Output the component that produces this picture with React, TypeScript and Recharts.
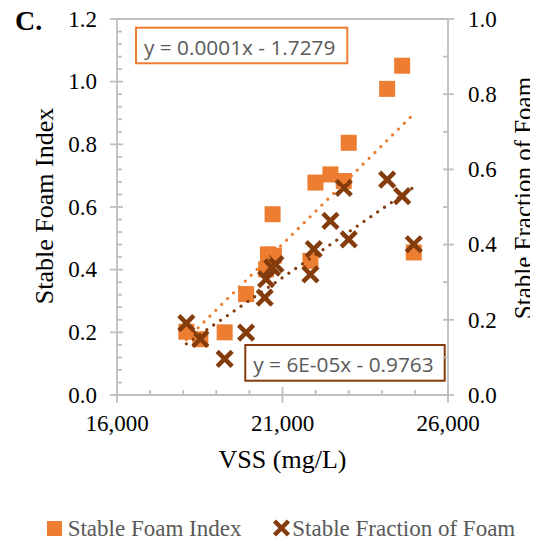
import React from 'react';
import { ScatterChart, Scatter, XAxis, YAxis, ReferenceLine, Legend, Customized } from 'recharts';

const ORANGE = '#ED7D31';
const BROWN = '#843C0C';
const AXIS_GRAY = '#BFBFBF';
const TEXT_GRAY = '#595959';
const SERIF = '"Liberation Serif", "Times New Roman", serif';
const SANS = '"Open Sans", "Liberation Sans", sans-serif';

// Stable Foam Index (left axis)
const vssFoam = [18095, 18518, 19253, 19900, 20504, 20560, 20700, 20740, 21843, 21995, 22448, 22850, 23001, 24162, 24615, 24966];
const foamIndex = [0.202, 0.178, 0.2, 0.322, 0.401, 0.449, 0.577, 0.445, 0.428, 0.678, 0.704, 0.683, 0.805, 0.977, 1.051, 0.455];

// Stable Fraction of Foam (right axis)
const vssFraction = [18095, 18518, 19253, 19900, 20462, 20504, 20686, 20785, 21843, 21943, 22448, 22850, 23001, 24162, 24615, 24966];
const stableFraction = [0.191, 0.149, 0.096, 0.166, 0.259, 0.308, 0.339, 0.348, 0.321, 0.388, 0.463, 0.551, 0.414, 0.573, 0.529, 0.401];

// Linear trendlines (end points)
const foamTrendX = [18095, 24966];
const foamTrendY = [0.177, 0.897];
const fractionTrendX = [18095, 24966];
const fractionTrendY = [0.136, 0.553];

const foamEquation = 'y = 0.0001x - 1.7279';
const fractionEquation = 'y = 6E-05x - 0.9763';

// Axes
const xDomain = [16000, 26000];
const xTicks = [16000, 17000, 18000, 19000, 20000, 21000, 22000, 23000, 24000, 25000, 26000];
const xMajorTicks = [16000, 21000, 26000];
const xTickLabels = ['16,000', '21,000', '26,000'];

const leftDomain = [0, 1.2];
const leftTicks = [0, 0.04, 0.08, 0.12, 0.16, 0.2, 0.24, 0.28, 0.32, 0.36, 0.4, 0.44, 0.48, 0.52, 0.56, 0.6, 0.64, 0.68, 0.72, 0.76, 0.8, 0.84, 0.88, 0.92, 0.96, 1.0, 1.04, 1.08, 1.12, 1.16, 1.2];
const leftMajorTicks = [0, 0.2, 0.4, 0.6, 0.8, 1.0, 1.2];
const leftTickLabels = ['0.0', '0.2', '0.4', '0.6', '0.8', '1.0', '1.2'];

const rightDomain = [0, 1.0];
const rightTicks = [0, 0.1, 0.2, 0.3, 0.4, 0.5, 0.6, 0.7, 0.8, 0.9, 1.0];
const rightMajorTicks = [0, 0.2, 0.4, 0.6, 0.8, 1.0];
const rightTickLabels = ['0.0', '0.2', '0.4', '0.6', '0.8', '1.0'];

const seriesNames = ['Stable Foam Index', 'Stable Fraction of Foam'];

const foamData = vssFoam.map((x, i) => ({ x, y: foamIndex[i] }));
const fractionData = vssFraction.map((x, i) => ({ x, y: stableFraction[i] }));
const foamTrend = foamTrendX.map((x, i) => ({ x, y: foamTrendY[i] }));
const fractionTrend = fractionTrendX.map((x, i) => ({ x, y: fractionTrendY[i] }));

const majorIndex = (list: number[], v: number) => list.findIndex((m) => Math.abs(m - v) < 1e-6);

function XTick(props: any) {
  const { x, y, payload } = props;
  const idx = majorIndex(xMajorTicks, payload.value);
  const major = idx >= 0;
  return (
    <g>
      <line x1={x} x2={x} y1={y - (major ? 8 : 5)} y2={y + (major ? 8 : 0)} stroke={AXIS_GRAY} strokeWidth={1.8} />
      {major && (
        <text x={x} y={y + 36} textAnchor="middle" fontFamily={SERIF} fontSize={23} fill="#000">
          {xTickLabels[idx]}
        </text>
      )}
    </g>
  );
}

function LeftTick(props: any) {
  const { x, y, payload } = props;
  const idx = majorIndex(leftMajorTicks, payload.value);
  const major = idx >= 0;
  return (
    <g>
      <line x1={x - (major ? 7 : 0)} x2={x + (major ? 6 : 5)} y1={y} y2={y} stroke={AXIS_GRAY} strokeWidth={1.8} />
      {major && (
        <text x={x - 20} y={y + 7.8} textAnchor="end" fontFamily={SERIF} fontSize={23} fill="#000">
          {leftTickLabels[idx]}
        </text>
      )}
    </g>
  );
}

function RightTick(props: any) {
  const { x, y, payload } = props;
  const idx = majorIndex(rightMajorTicks, payload.value);
  const major = idx >= 0;
  return (
    <g>
      <line x1={x - 5} x2={x + (major ? 6 : 0)} y1={y} y2={y} stroke={AXIS_GRAY} strokeWidth={1.8} />
      {major && (
        <text x={x + 20} y={y + 7.8} textAnchor="start" fontFamily={SERIF} fontSize={23} fill="#000">
          {rightTickLabels[idx]}
        </text>
      )}
    </g>
  );
}

const SquareShape = (p: any) => <rect x={p.cx - 8} y={p.cy - 8} width={16} height={16} fill={ORANGE} />;
const CrossShape = (p: any) => (
  <g stroke={BROWN} strokeWidth={4.5}>
    <line x1={p.cx - 7.5} y1={p.cy - 7.5} x2={p.cx + 7.5} y2={p.cy + 7.5} />
    <line x1={p.cx - 7.5} y1={p.cy + 7.5} x2={p.cx + 7.5} y2={p.cy - 7.5} />
  </g>
);
const NoShape = () => <g />;

const leftTitle = () => {
  const cx = 45;
  const cy = 206;
  return (
    <text x={cx} y={cy} transform={`rotate(-90, ${cx}, ${cy})`} textAnchor="middle" fontFamily={SERIF} fontSize={26} fill="#000">
      Stable Foam Index
    </text>
  );
};

const rightTitle = () => {
  const cx = 523.5;
  const cy = 198;
  return (
    <text x={cx} y={cy} transform={`rotate(-90, ${cx}, ${cy})`} textAnchor="middle" fontFamily={SERIF} fontSize={25} fill="#000">
      Stable Fraction of Foam
    </text>
  );
};

const xTitle = () => (
  <text x={274.5} y={468} textAnchor="middle" fontFamily={SERIF} fontSize={26} fill="#000">
    VSS (mg/L)
  </text>
);

const LegendContent = () => (
  <svg width={530} height={36} style={{ display: 'block' }}>
    <rect x={39} y={8} width={15} height={15} fill={ORANGE} />
    <text x={59.7} y={23} fontFamily={SERIF} fontSize={23} fill={TEXT_GRAY}>
      {seriesNames[0]}
    </text>
    <g stroke={BROWN} strokeWidth={4.5}>
      <line x1={266.5} y1={8} x2={280.5} y2={22} />
      <line x1={266.5} y1={22} x2={280.5} y2={8} />
    </g>
    <text x={284.3} y={23} fontFamily={SERIF} fontSize={23} fill={TEXT_GRAY}>
      {seriesNames[1]}
    </text>
  </svg>
);

const Annotations = () => (
  <g>
    <text x={7} y={30} fontFamily={SERIF} fontSize={28} fontWeight="bold" fill="#000">
      C.
    </text>
    <rect x={128} y={27.7} width={211.3} height={35.6} fill="#fff" stroke={ORANGE} strokeWidth={2} />
    <text x={136} y={55} fontFamily={SANS} fontSize={20.8} fill={TEXT_GRAY}>
      {foamEquation}
    </text>
    <rect x={237.3} y={345} width={199.4} height={35.7} fill="#fff" stroke={BROWN} strokeWidth={2} />
    <text x={245.3} y={371.7} fontFamily={SANS} fontSize={20.8} fill={TEXT_GRAY}>
      {fractionEquation}
    </text>
  </g>
);

export default function App() {
  return (
    <div style={{ position: 'relative', width: 530, height: 544, marginTop: -8 }}>
      <ScatterChart width={530} height={544} margin={{ top: 19, right: 0, bottom: 13, left: 0 }}>
        <XAxis
          type="number"
          dataKey="x"
          domain={xDomain}
          ticks={xTicks}
          interval={0}
          tickSize={0}
          tickMargin={0}
          tickLine={false}
          tick={<XTick />}
          height={100}
          axisLine={{ stroke: AXIS_GRAY, strokeWidth: 1.8 }}
          label={{ content: xTitle }}
        />
        <YAxis
          yAxisId="left"
          type="number"
          dataKey="y"
          domain={leftDomain}
          ticks={leftTicks}
          interval={0}
          tickSize={0}
          tickMargin={0}
          tickLine={false}
          tick={<LeftTick />}
          width={109}
          axisLine={{ stroke: AXIS_GRAY, strokeWidth: 1.8 }}
          label={{ content: leftTitle }}
        />
        <YAxis
          yAxisId="right"
          orientation="right"
          type="number"
          dataKey="y"
          domain={rightDomain}
          ticks={rightTicks}
          interval={0}
          tickSize={0}
          tickMargin={0}
          tickLine={false}
          tick={<RightTick />}
          width={90}
          axisLine={{ stroke: AXIS_GRAY, strokeWidth: 1.8 }}
          label={{ content: rightTitle }}
        />
        <ReferenceLine yAxisId="left" y={leftDomain[1]} stroke={AXIS_GRAY} strokeWidth={1.8} />
        <Legend
          verticalAlign="bottom"
          wrapperStyle={{ position: 'absolute', left: 0, top: 513, width: 530, height: 36 }}
          content={() => <LegendContent />}
        />
        <Scatter name={seriesNames[0]} data={foamData} yAxisId="left" shape={SquareShape} isAnimationActive={false} />
        <Scatter name={seriesNames[1]} data={fractionData} yAxisId="right" shape={CrossShape} isAnimationActive={false} />
        <Scatter
          data={foamTrend}
          yAxisId="left"
          shape={NoShape}
          legendType="none"
          line={{ stroke: ORANGE, strokeWidth: 3.3, strokeDasharray: '0 8.3', strokeLinecap: 'round' }}
          isAnimationActive={false}
        />
        <Scatter
          data={fractionTrend}
          yAxisId="right"
          shape={NoShape}
          legendType="none"
          line={{ stroke: BROWN, strokeWidth: 3.3, strokeDasharray: '0 8.3', strokeLinecap: 'round' }}
          isAnimationActive={false}
        />
        <Customized component={Annotations} />
      </ScatterChart>
    </div>
  );
}
